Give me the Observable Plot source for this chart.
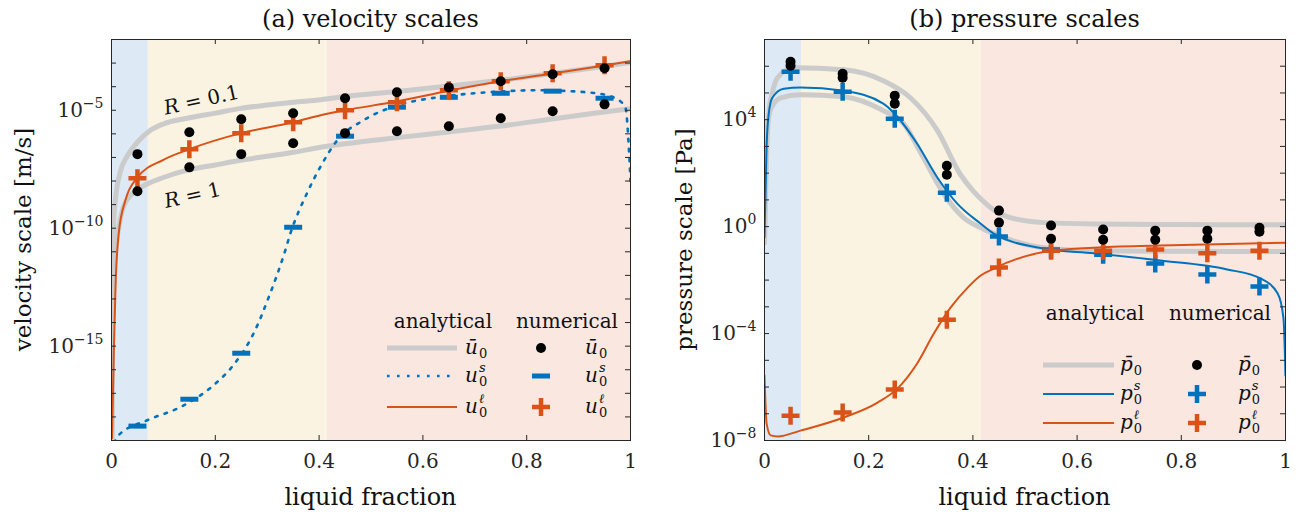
<!DOCTYPE html>
<html><head><meta charset="utf-8">
<script src="https://cdn.jsdelivr.net/npm/d3@7"></script>
<script src="https://cdn.jsdelivr.net/npm/@observablehq/plot@0.6"></script>
<style>
body{margin:0;background:#fff;}
#fig{position:relative;width:1298px;height:516px;font-family:"DejaVu Serif",serif;}
#fig > svg{position:absolute;top:0;}
#overlay{left:0;pointer-events:none;}
</style></head><body><div id="fig"></div>
<script>
// ---------- data ----------
const phaseEdges = [0, 0.071, 0.416, 1];
const phaseColors = ["#dde9f4", "#fbf3e1", "#f9e7e0"];
const numPhi = [0.05, 0.15, 0.25, 0.35, 0.45, 0.55, 0.65, 0.75, 0.85, 0.95];
const xTicks = [0, 0.2, 0.4, 0.6, 0.8, 1];

// (a) velocity scales: log10 values
const uBarHiPhi = [0.0008,0.002,0.004,0.008,0.017,0.03,0.05,0.075,0.1,0.146,0.2,0.249,0.3,0.351,0.403,0.45,0.551,0.65,0.75,0.852,0.93,1.0];
const uBarHiExp = [-19.5,-11.8,-9.8,-8.7,-7.6,-6.95,-6.35,-5.85,-5.58,-5.34,-5.12,-4.92,-4.78,-4.66,-4.55,-4.42,-4.2,-3.97,-3.73,-3.43,-3.2,-2.97];
const uBarLoPhi = [0.0008,0.002,0.004,0.008,0.014,0.023,0.042,0.062,0.1,0.146,0.2,0.249,0.3,0.351,0.403,0.45,0.551,0.65,0.75,0.852,0.93,1.0];
const uBarLoExp = [-19.5,-14,-12.3,-10.9,-9.96,-9.1,-8.5,-8.2,-7.85,-7.54,-7.32,-7.12,-6.95,-6.78,-6.57,-6.42,-6.16,-5.92,-5.67,-5.36,-5.13,-4.93];
const uLiqPhi = [0.001,0.0045,0.008,0.014,0.027,0.05,0.1,0.15,0.25,0.35,0.403,0.45,0.551,0.65,0.75,0.852,0.95,1.0];
const uLiqExp = [-18.9,-15.2,-12.3,-10.2,-8.8,-7.85,-7.1,-6.65,-5.97,-5.51,-5.21,-5.0,-4.62,-4.17,-3.77,-3.43,-3.1,-2.92];
const uSolPhi = [0.005,0.014,0.069,0.133,0.197,0.235,0.274,0.306,0.332,0.345,0.377,0.405,0.435,0.486,0.551,0.628,0.724,0.82,0.917,0.967,0.99,1.0];
const uSolExp = [-19.1,-18.77,-18.14,-17.58,-16.65,-15.8,-14.45,-12.75,-11.14,-10.2,-8.5,-7.3,-6.27,-5.42,-4.79,-4.45,-4.24,-4.15,-4.24,-4.45,-4.87,-8.0];
const uBarNumHi = [-6.86,-5.93,-5.38,-5.13,-4.49,-4.24,-4.03,-3.77,-3.47,-3.22];
const uBarNumLo = [-8.43,-7.42,-6.86,-6.40,-5.97,-5.89,-5.68,-5.34,-5.04,-4.75];
const uSolNum = [-18.39,-17.25,-15.30,-9.96,-6.10,-4.87,-4.45,-4.28,-4.19,-4.49];
const uLiqNum = [-7.88,-6.65,-5.97,-5.51,-5.0,-4.66,-4.15,-3.77,-3.43,-3.09];
const uDomain = [1e-19, 1e-2];
const uTickLabels = [1e-15, 1e-10, 1e-5];
const rLabels = ["0.1", "1"];
const rLabelPhi = [0.177, 0.16];
const rLabelExp = [-4.86, -8.9];

// (b) pressure scales: log10 values
const pBarHiPhi = [0,0.003,0.008,0.015,0.025,0.056,0.152,0.228,0.28,0.332,0.376,0.40,0.42,0.44,0.47,0.536,0.632,0.8,1.0];
const pBarHiExp = [-0.6,2.0,4.22,5.0,5.57,5.94,5.87,5.46,4.82,3.59,1.95,1.35,0.95,0.62,0.35,0.15,0.1,0.08,0.07];
const pBarLoPhi = [0,0.005,0.012,0.031,0.069,0.152,0.228,0.267,0.305,0.344,0.382,0.415,0.44,0.536,0.632,0.8,1.0];
const pBarLoExp = [-0.6,3.59,4.4,4.82,4.93,4.86,4.34,3.85,2.58,1.23,0.34,-0.04,-0.26,-0.79,-0.9,-0.92,-0.93];
const pSolPhi = [0,0.004,0.008,0.015,0.037,0.069,0.152,0.228,0.255,0.293,0.332,0.37,0.415,0.44,0.536,0.632,0.76,0.888,0.952,0.985,0.996,1.0];
const pSolExp = [-0.4,3.0,4.2,4.82,5.16,5.2,5.08,4.6,4.11,3.1,1.83,0.86,0.11,-0.26,-0.82,-1.0,-1.27,-1.6,-1.94,-2.5,-3.4,-5.57];
const pLiqPhi = [0,0.004,0.012,0.025,0.069,0.152,0.217,0.255,0.293,0.325,0.357,0.39,0.415,0.44,0.536,0.632,0.76,1.0];
const pLiqExp = [-5.57,-7.36,-7.81,-7.85,-7.63,-7.14,-6.58,-6.06,-5.12,-4.0,-3.03,-2.28,-1.83,-1.57,-0.95,-0.79,-0.71,-0.6];
const pBarNumHi = [6.17,5.72,4.9,2.28,0.6,0.04,-0.11,-0.15,-0.15,-0.04];
const pBarNumLo = [6.02,5.57,4.6,1.94,0.15,-0.45,-0.49,-0.49,-0.45,-0.19];
const pSolNum = [5.79,5.05,4.04,1.27,-0.37,-0.86,-1.05,-1.38,-1.79,-2.24];
const pLiqNum = [-7.07,-6.95,-6.09,-3.48,-1.53,-0.9,-0.9,-0.86,-1.0,-0.9];
const pDomain = [1e-8, 1e7];
const pTickLabels = [1e-8, 1e-4, 1e0, 1e4];

// ---------- styles ----------
const GRAY = "#cbcbcb", BLUE = "#0072bd", ORANGE = "#d95319", AX = "#262626";
const FONT = "DejaVu Serif, serif";

const pts = (phi, ex) => phi.map((p, i) => ({x: p, y: 10 ** ex[i]}));
const bands = phaseColors.map((c, i) => ({x1: phaseEdges[i], x2: phaseEdges[i + 1], c}));
const dashSymbol = {draw(ctx, size) { const w = Math.sqrt(size / Math.PI); ctx.moveTo(-w, 0); ctx.lineTo(w, 0); }};
const plusSymbol = {draw(ctx, size) { const w = Math.sqrt(size / Math.PI); ctx.moveTo(-w, 0); ctx.lineTo(w, 0); ctx.moveTo(0, -w); ctx.lineTo(0, w); }};
const expFmt = d => { const e = Math.round(Math.log10(d)); return "10^" + (e < 0 ? "\u2212" + (-e) : String(e)); };
const decades = (dom) => d3.range(Math.round(Math.log10(dom[0])), Math.round(Math.log10(dom[1])) + 1).map(e => 10 ** e);

function panel({width, marginLeft, marginRight, domain, tickLabels, lines, markers}) {
  const frameW = width - marginLeft - marginRight, frameH = 516 - 39 - 76;
  const dec = decades(domain);
  return Plot.plot({
    width, height: 516, marginLeft, marginRight, marginTop: 39, marginBottom: 76,
    style: {fontFamily: FONT, fontSize: "20px", color: AX, background: "transparent", overflow: "visible"},
    x: {domain: [0, 1]},
    y: {type: "log", domain},
    marks: [
      Plot.rect(bands, {x1: "x1", x2: "x2", y1: domain[0], y2: domain[1], fill: "c"}),
      ...lines,
      ...markers,
      Plot.tickY(dec, {y: d => d, insetRight: frameW - 5, stroke: AX}),
      Plot.tickY(dec, {y: d => d, insetLeft: frameW - 5, stroke: AX}),
      Plot.tickX(xTicks, {x: d => d, insetTop: frameH - 5, stroke: AX}),
      Plot.tickX(xTicks, {x: d => d, insetBottom: frameH - 5, stroke: AX}),
      Plot.frame({stroke: AX, strokeWidth: 1}),
      Plot.axisX(xTicks, {tickSize: 0, tickPadding: 13, tickFormat: d => String(+d.toFixed(1)), fontSize: 20, fill: AX, label: null}),
      Plot.axisY(tickLabels, {tickSize: 0, tickPadding: 8, tickFormat: expFmt, fontSize: 20, fill: AX, label: null})
    ]
  });
}

const lineOpts = (stroke, w, extra = {}) => ({x: "x", y: "y", stroke, strokeWidth: w, curve: "monotone-x", clip: true, strokeLinejoin: "round", ...extra});
const markOpts = (sym, r, stroke, w) => ({x: "x", y: "y", symbol: sym, r, stroke, strokeWidth: w, fill: "none"});

const left = panel({
  width: 650, marginLeft: 111, marginRight: 20, domain: uDomain, tickLabels: uTickLabels,
  lines: [
    Plot.line(pts(uBarHiPhi, uBarHiExp), lineOpts(GRAY, 5)),
    Plot.line(pts(uBarLoPhi, uBarLoExp), lineOpts(GRAY, 5)),
    Plot.line(pts(uSolPhi, uSolExp), lineOpts(BLUE, 2.6, {strokeDasharray: "2.6 7.4"})),
    Plot.line(pts(uLiqPhi, uLiqExp), lineOpts(ORANGE, 2))
  ],
  markers: [
    Plot.dot(pts(numPhi, uSolNum), markOpts(dashSymbol, 9, BLUE, 5)),
    Plot.dot(pts(numPhi, uLiqNum), markOpts(plusSymbol, 9, ORANGE, 4.5)),
    Plot.dot(pts(numPhi, uBarNumHi), {x: "x", y: "y", r: 5, fill: "black", stroke: "none"}),
    Plot.dot(pts(numPhi, uBarNumLo), {x: "x", y: "y", r: 5, fill: "black", stroke: "none"})
  ]
});

const right = panel({
  width: 648, marginLeft: 114, marginRight: 13, domain: pDomain, tickLabels: pTickLabels,
  lines: [
    Plot.line(pts(pBarHiPhi, pBarHiExp), lineOpts(GRAY, 5)),
    Plot.line(pts(pBarLoPhi, pBarLoExp), lineOpts(GRAY, 5)),
    Plot.line(pts(pSolPhi, pSolExp), lineOpts(BLUE, 2)),
    Plot.line(pts(pLiqPhi, pLiqExp), lineOpts(ORANGE, 2))
  ],
  markers: [
    Plot.dot(pts(numPhi, pSolNum), markOpts(plusSymbol, 9, BLUE, 4.5)),
    Plot.dot(pts(numPhi, pLiqNum), markOpts(plusSymbol, 9, ORANGE, 4.5)),
    Plot.dot(pts(numPhi, pBarNumHi), {x: "x", y: "y", r: 5, fill: "black", stroke: "none"}),
    Plot.dot(pts(numPhi, pBarNumLo), {x: "x", y: "y", r: 5, fill: "black", stroke: "none"})
  ]
});

const ns = "http://www.w3.org/2000/svg";
// superscript exponents on y tick labels
for (const svg of [left, right]) {
  svg.querySelectorAll('g[aria-label="y-axis tick label"] text').forEach(t => {
    const parts = t.textContent.split("^");
    if (parts.length < 2) return;
    t.textContent = "";
    const a = document.createElementNS(ns, "tspan"); a.textContent = parts[0];
    const b = document.createElementNS(ns, "tspan"); b.textContent = parts[1];
    b.setAttribute("font-size", "14"); b.setAttribute("dy", "-9");
    t.append(a, b);
  });
}
const fig = document.getElementById("fig");
left.style.left = "0px"; right.style.left = "650px";
fig.append(left, right);

// ---------- overlay: titles, labels, legends, annotations ----------
const ov = document.createElementNS(ns, "svg");
ov.setAttribute("id", "overlay"); ov.setAttribute("width", 1298); ov.setAttribute("height", 516);
ov.style.fontFamily = FONT;
fig.append(ov);
function el(tag, attrs, parent = ov) { const e = document.createElementNS(ns, tag); for (const k in attrs) e.setAttribute(k, attrs[k]); parent.appendChild(e); return e; }
function txt(s, x, y, o = {}) {
  const t = el("text", {x, y, "font-size": o.size || 20, "text-anchor": o.anchor || "start", fill: o.fill || AX, ...(o.attrs || {})}, o.parent || ov);
  if (o.italic) t.setAttribute("font-style", "italic");
  t.textContent = s; return t;
}
// math symbol: italic base with stacked superscript and subscript 0, one text element
function mathSym(x, y, base, sup) {
  const t = el("text", {x, y, "font-size": 20, fill: "#111"});
  const b = document.createElementNS(ns, "tspan"); b.setAttribute("font-style", "italic"); b.textContent = base;
  t.append(b);
  const w = b.getComputedTextLength();
  if (sup) {
    const s = document.createElementNS(ns, "tspan");
    s.setAttribute("font-style", "italic"); s.setAttribute("font-size", "13");
    s.setAttribute("x", x + w + 1); s.setAttribute("y", y - 10); s.textContent = sup;
    t.append(s);
  }
  const z = document.createElementNS(ns, "tspan");
  z.setAttribute("font-size", "13"); z.setAttribute("x", x + w + 1); z.setAttribute("y", y + 4); z.textContent = "0";
  t.append(z);
}

const titles = ["(a) velocity scales", "(b) pressure scales"];
const yLabels = ["velocity scale [m/s]", "pressure scale [Pa]"];
const xLabel = "liquid fraction";
const legendHeads = ["analytical", "numerical"];
const uSyms = [["\u016B", null], ["u", "s"], ["u", "\u2113"]];
const pSyms = [["p\u0304", null], ["p", "s"], ["p", "\u2113"]];

const panels = [
  {svg: left, off: 0, mL: 111, mR: 20, w: 650, yLabX: 31,
   leg: {headY: 328, headX: [443, 567], rows: [348, 376, 407], lx: [387, 457], labX: 465, mX: 541, mLabX: 585,
         lines: [{s: GRAY, w: 5}, {s: BLUE, w: 2.6, d: "2.6 7.4"}, {s: ORANGE, w: 2}], marks: ["dot", "dash", "plusO"], syms: uSyms}},
  {svg: right, off: 650, mL: 114, mR: 13, w: 648, yLabX: 692,
   leg: {headY: 320, headX: [1095, 1220], rows: [365, 394, 423], lx: [1043, 1114], labX: 1120, mX: 1197, mLabX: 1238,
         lines: [{s: GRAY, w: 5}, {s: BLUE, w: 2}, {s: ORANGE, w: 2}], marks: ["dot", "plusB", "plusO"], syms: pSyms}}
];

panels.forEach((p, i) => {
  const cx = p.off + p.mL + (p.w - p.mL - p.mR) / 2;
  txt(titles[i], cx, 27, {size: 24, anchor: "middle", fill: "#111"});
  txt(xLabel, cx, 505, {size: 24, anchor: "middle", fill: "#111"});
  txt(yLabels[i], 0, 0, {size: 23, anchor: "middle", fill: "#111", attrs: {transform: `translate(${p.yLabX},239.5) rotate(-90)`}});
  const L = p.leg;
  legendHeads.forEach((h, j) => txt(h, L.headX[j], L.headY, {size: 20, anchor: "middle", fill: "#111"}));
  L.rows.forEach((ry, r) => {
    const ln = L.lines[r];
    const a = {x1: L.lx[0], x2: L.lx[1], y1: ry, y2: ry, stroke: ln.s, "stroke-width": ln.w};
    if (ln.d) a["stroke-dasharray"] = ln.d;
    el("line", a);
    mathSym(L.labX, ry + 6, L.syms[r][0], L.syms[r][1]);
    mathSym(L.mLabX, ry + 6, L.syms[r][0], L.syms[r][1]);
    const m = L.marks[r], mx = L.mX;
    if (m === "dot") el("circle", {cx: mx, cy: ry, r: 5, fill: "black"});
    else if (m === "dash") el("line", {x1: mx - 9, x2: mx + 9, y1: ry, y2: ry, stroke: BLUE, "stroke-width": 5});
    else {
      const c = m === "plusB" ? BLUE : ORANGE;
      el("path", {d: `M${mx - 9},${ry}H${mx + 9}M${mx},${ry - 9}V${ry + 9}`, stroke: c, "stroke-width": 4.5, fill: "none"});
    }
  });
});

// R annotations positioned through the left panel's scales
const sx = left.scale("x"), sy = left.scale("y");
rLabels.forEach((r, i) => {
  const x = sx.apply(rLabelPhi[i]), y = sy.apply(10 ** rLabelExp[i]);
  const t = el("text", {x, y, "font-size": 20, "text-anchor": "middle", fill: "#111", transform: `rotate(-12.6,${x},${y})`});
  const a = document.createElementNS(ns, "tspan"); a.setAttribute("font-style", "italic"); a.textContent = "R";
  const b = document.createElementNS(ns, "tspan"); b.textContent = " = " + r;
  t.append(a, b);
});
</script></body></html>
